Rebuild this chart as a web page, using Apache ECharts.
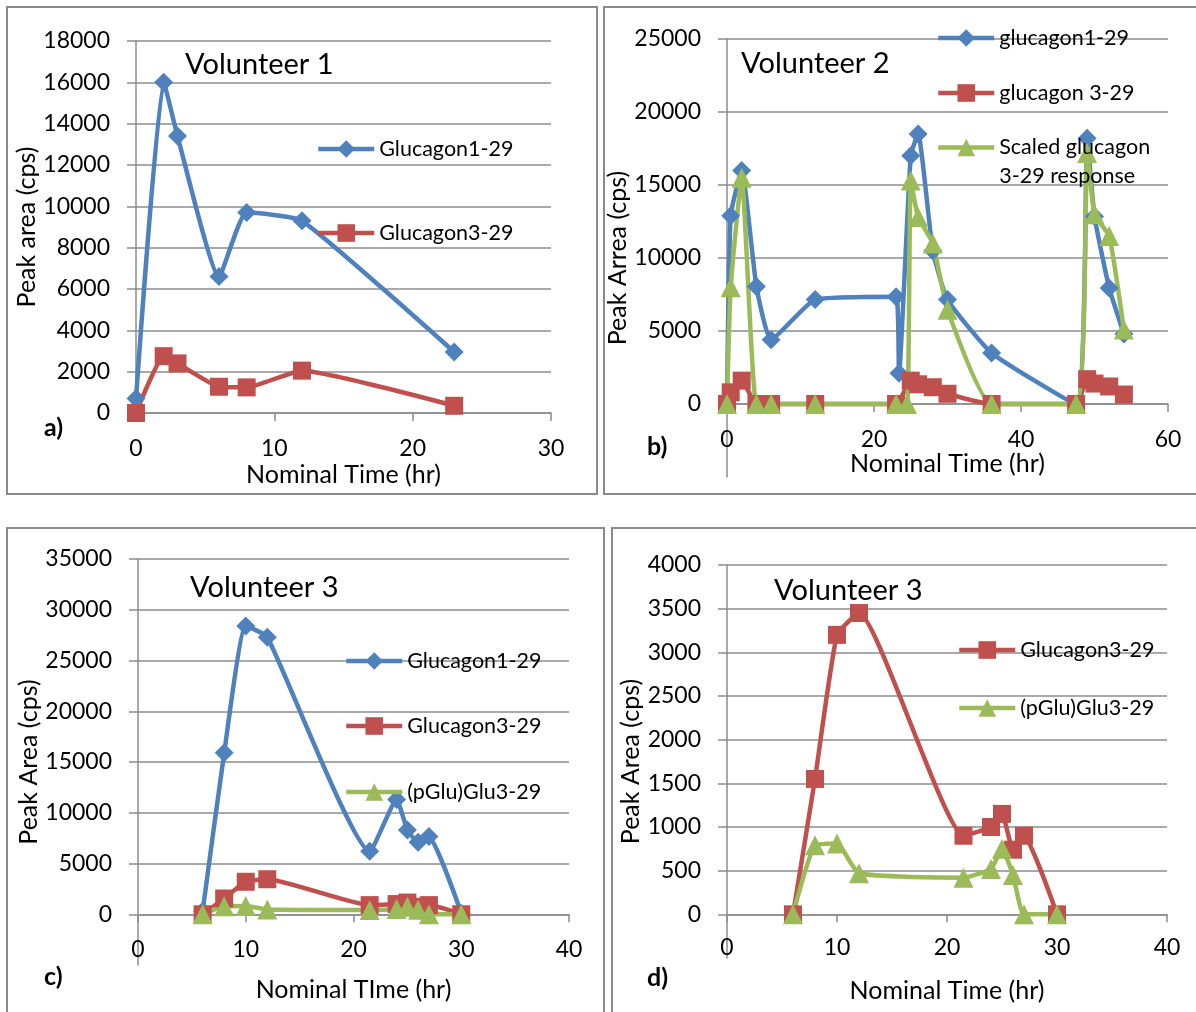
<!DOCTYPE html>
<html><head><meta charset="utf-8">
<script src="https://cdn.jsdelivr.net/npm/echarts@6/dist/echarts.min.js"></script>
<style>html,body{margin:0;padding:0;background:#fff}#chart{width:1196px;height:1012px}</style>
</head><body><div id="chart"></div>
<script>
// ---------- Data ----------
// Panel a - Volunteer 1
const aTime = [0, 2, 3, 6, 8, 12, 23];
const aGlucagon1_29 = [700, 16000, 13400, 6600, 9700, 9300, 2950];
const aGlucagon3_29 = [0, 2750, 2400, 1270, 1240, 2050, 350];

// Panel b - Volunteer 2
const bTime1_29 = [0, 0.5, 2, 4, 6, 12, 23, 23.4, 25, 26, 28, 30, 36, 47.5, 49, 50, 52, 54];
const bGlucagon1_29 = [0, 12900, 16000, 8050, 4400, 7150, 7350, 2100, 17000, 18500, 10500, 7150, 3500, 0, 18200, 12850, 7950, 4800];
const bTime3_29 = [0, 0.5, 2, 4, 6, 12, 23, 25, 26, 28, 30, 36, 47.5, 49, 50, 52, 54];
const bGlucagon3_29 = [0, 800, 1600, 0, 0, 0, 0, 1600, 1350, 1150, 700, 0, 0, 1700, 1400, 1200, 650];
const bTimeScaled = [0, 0.5, 2, 4, 6, 12, 23, 24.5, 25, 26, 28, 30, 36, 47.5, 49, 50, 52, 54];
const bScaled3_29 = [0, 8000, 15500, 0, 0, 0, 0, 0, 15300, 12800, 11000, 6450, 0, 0, 17200, 13000, 11500, 5100];

// Panels c and d - Volunteer 3
const v3Time = [6, 8, 10, 12, 21.5, 24, 25, 26, 27, 30];
const cGlucagon1_29 = [300, 15900, 28400, 27300, 6200, 11300, 8300, 7100, 7650, 100];
const v3Glucagon3_29 = [0, 1550, 3200, 3450, 900, 1000, 1150, 740, 900, 0];
const v3pGluGlu3_29 = [0, 790, 810, 470, 420, 520, 750, 450, 0, 0];

// Axis tick labels
const aYTicks = [0, 2000, 4000, 6000, 8000, 10000, 12000, 14000, 16000, 18000];
const bYTicks = [0, 5000, 10000, 15000, 20000, 25000];
const cYTicks = [0, 5000, 10000, 15000, 20000, 25000, 30000, 35000];
const dYTicks = [0, 500, 1000, 1500, 2000, 2500, 3000, 3500, 4000];

// ---------- Styles ----------
const BLUE = '#4F81BD', RED = '#C0504D', GREEN = '#9BBB59';
const AXIS = '#8c8c8c', BORDER = '#8a8a8a';
const FONT = 'Lato';
const SMOOTH = 0.15;
const zip = (xs, ys) => xs.map((x, i) => [x, ys[i]]);

const grids = [
  { left: 136, top: 41, width: 415, height: 372 },
  { left: 727, top: 39, width: 441, height: 438 },
  { left: 138, top: 559, width: 431, height: 406 },
  { left: 727, top: 565, width: 440, height: 393 }
];
const yMins = [0, -5000, -5000, -500];
const yTicks = [aYTicks, bYTicks, cYTicks, dYTicks];

// x axis sits on the zero line of its y axis
function zeroOffset(i) {
  const max = yTicks[i][yTicks[i].length - 1];
  return -grids[i].height * (0 - yMins[i]) / (max - yMins[i]);
}

function xAx(gridIndex, max, interval, name, nameGap, margin) {
  return {
    type: 'value', gridIndex, min: 0, max, interval, position: 'bottom',
    offset: zeroOffset(gridIndex),
    name, nameLocation: 'middle', nameGap,
    nameTextStyle: { fontSize: 25, color: '#000', fontFamily: FONT },
    axisLine: { show: true, onZero: false, lineStyle: { color: AXIS, width: 1.5 } },
    axisTick: { show: true, length: 8, lineStyle: { color: AXIS, width: 1.5 } },
    axisLabel: { fontSize: 23, color: '#000', margin, fontFamily: FONT, formatter: v => String(v) },
    splitLine: { show: false }
  };
}
function yAx(gridIndex, interval, name, nameGap) {
  const ticks = yTicks[gridIndex];
  const max = ticks[ticks.length - 1];
  return {
    type: 'value', gridIndex, min: yMins[gridIndex], max, interval,
    name, nameLocation: 'middle', nameGap, nameRotate: 90,
    nameTextStyle: { fontSize: 25, color: '#000', fontFamily: FONT },
    axisLine: { show: true, onZero: false, lineStyle: { color: AXIS, width: 1.5 } },
    axisTick: { show: true, length: 9, customValues: ticks, lineStyle: { color: AXIS, width: 1.5 } },
    axisLabel: { fontSize: 23, color: '#000', margin: 26, fontFamily: FONT, customValues: ticks,
                 formatter: v => (v < 0 ? '' : String(v)) },
    splitLine: { show: true, lineStyle: { color: AXIS, width: 1.5 } }
  };
}
function ser(name, data, idx, color, symbol, size) {
  return {
    type: 'line', name, data, xAxisIndex: idx, yAxisIndex: idx,
    smooth: SMOOTH, clip: false, symbol, symbolSize: size, showAllSymbol: true,
    lineStyle: { color, width: 4.5 }, itemStyle: { color }, emphasis: { disabled: true }
  };
}
function leg(name, left, top, extra) {
  return Object.assign({
    data: [name], left, top, orient: 'vertical', padding: 0,
    itemWidth: 56, itemHeight: 22, selectedMode: false,
    lineStyle: { width: 4.5 },
    textStyle: { fontSize: 21.5, color: '#000', fontFamily: FONT, lineHeight: 22 }
  }, extra || {});
}
function ttl(text, left, top) {
  return { text, left, top, padding: 0,
           textStyle: { fontSize: 29, fontWeight: 'normal', color: '#000', fontFamily: FONT } };
}
function lab(text, x, y) {
  return { type: 'text', silent: true, style: { text, x, y, verticalAlign: 'middle',
           font: 'bold 25px Lato', fill: '#000' } };
}
function box(x, y, w, h) {
  return { type: 'rect', silent: true, shape: { x, y, width: w, height: h },
           style: { fill: 'none', stroke: BORDER, lineWidth: 2 } };
}

const SCALED = 'Scaled glucagon\n3-29 response';

const option = {
  animation: false,
  backgroundColor: '#fff',
  textStyle: { fontFamily: FONT },
  title: [
    ttl('Volunteer 1', 185, 50),
    ttl('Volunteer 2', 741, 49),
    ttl('Volunteer 3', 190, 573),
    ttl('Volunteer 3', 774, 576)
  ],
  grid: grids,
  xAxis: [
    xAx(0, 30, 10, 'Nominal Time (hr)', 49, 24),
    xAx(1, 60, 20, 'Nominal Time (hr)', 47, 24),
    xAx(2, 40, 10, 'Nominal TIme (hr)', 63, 24),
    xAx(3, 40, 10, 'Nominal Time (hr)', 64, 22)
  ],
  yAxis: [
    yAx(0, 2000, 'Peak area (cps)', 92),
    yAx(1, 5000, 'Peak Arrea (cps)', 88),
    yAx(2, 5000, 'Peak Area (cps)', 94),
    yAx(3, 500, 'Peak Area (cps)', 80)
  ],
  legend: [
    leg('Glucagon1-29', 316, 138),
    leg('Glucagon3-29', 316, 222),
    leg('glucagon1-29', 936, 27),
    leg('glucagon 3-29', 936, 82),
    leg(SCALED, 936, 104, {
      formatter: n => ' \n' + n,
      textStyle: { fontSize: 21.5, color: '#000', fontFamily: FONT, lineHeight: 29 }
    }),
    leg('Glucagon1-29 ', 344, 650),
    leg('Glucagon3-29 ', 344, 715),
    leg('(pGlu)Glu3-29', 344, 781),
    leg('Glucagon3-29  ', 957, 639),
    leg('(pGlu)Glu3-29 ', 957, 697)
  ],
  series: [
    ser('Glucagon1-29', zip(aTime, aGlucagon1_29), 0, BLUE, 'diamond', 19),
    ser('Glucagon3-29', zip(aTime, aGlucagon3_29), 0, RED, 'rect', 18),

    ser('glucagon1-29', zip(bTime1_29, bGlucagon1_29), 1, BLUE, 'diamond', 19),
    ser('glucagon 3-29', zip(bTime3_29, bGlucagon3_29), 1, RED, 'rect', 18),
    ser(SCALED, zip(bTimeScaled, bScaled3_29), 1, GREEN, 'triangle', 20),

    ser('Glucagon1-29 ', zip(v3Time, cGlucagon1_29), 2, BLUE, 'diamond', 19),
    ser('Glucagon3-29 ', zip(v3Time, v3Glucagon3_29), 2, RED, 'rect', 18),
    ser('(pGlu)Glu3-29', zip(v3Time, v3pGluGlu3_29), 2, GREEN, 'triangle', 20),

    ser('Glucagon3-29  ', zip(v3Time, v3Glucagon3_29), 3, RED, 'rect', 18),
    ser('(pGlu)Glu3-29 ', zip(v3Time, v3pGluGlu3_29), 3, GREEN, 'triangle', 20)
  ],
  graphic: [
    box(7, 7, 590, 487),
    box(604, 7, 600, 487),
    box(7, 528, 597, 500),
    box(612, 528, 600, 500),
    lab('a)', 44, 428),
    lab('b)', 647, 447),
    lab('c)', 44, 977),
    lab('d)', 647, 978)
  ]
};

const chart = echarts.init(document.getElementById('chart'));
chart.setOption(option);
</script>
</body></html>
